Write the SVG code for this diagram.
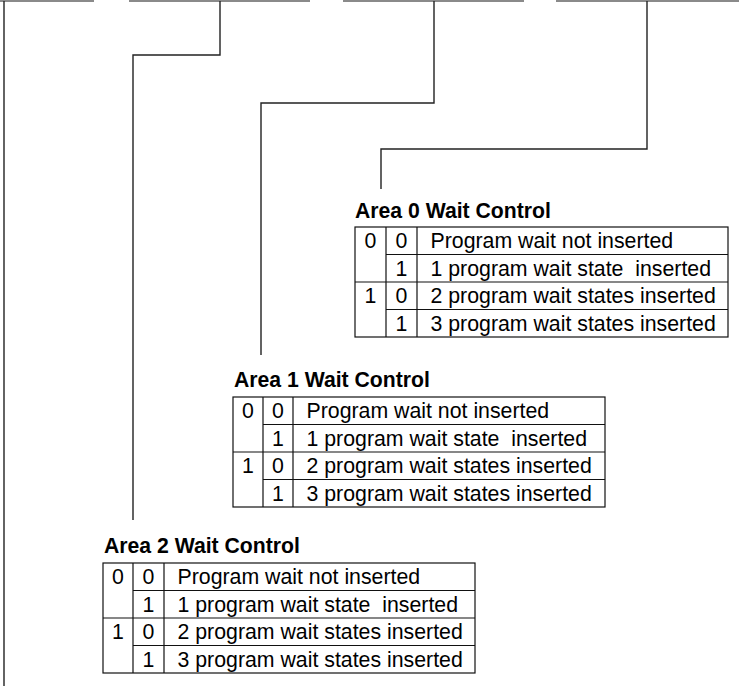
<svg xmlns="http://www.w3.org/2000/svg" width="739" height="690" viewBox="0 0 739 690">
<style>
.bus{stroke:#8a8a8a;stroke-width:2;fill:none}
.conn{stroke:#222;stroke-width:1.4;fill:none}
.grid{stroke:#111;stroke-width:1.2;fill:none}
.t{font-family:"Liberation Sans",Arial,sans-serif;font-size:21.3px;fill:#000}
.c{text-anchor:middle}
.title{font-family:"Liberation Sans",Arial,sans-serif;font-size:21.2px;font-weight:bold;fill:#000}
</style>
<rect width="739" height="690" fill="#fff"/>
<g id="connectors">
<path class="bus" d="M0 1H94M129 1H310M343 1H524M556 1H739"/>
<path class="conn" d="M4 1V686"/>
<path class="conn" d="M220 1V55H133V520"/>
<path class="conn" d="M434 1V103H261V355"/>
<path class="conn" d="M647 1V149H381V189"/>
</g>
<g id="area0">
<text class="title" x="355" y="218">Area 0 Wait Control</text>
<g transform="translate(355,227)">
<rect class="grid" x="0" y="0" width="373" height="110"/>
<path class="grid" d="M31 0V110M62 0V110M31 27.5H373M0 55H373M31 82.5H373"/>
<text class="t c" x="15.5" y="21">0</text>
<text class="t c" x="15.5" y="76">1</text>
<text class="t c" x="46.5" y="21">0</text>
<text class="t c" x="46.5" y="48.5">1</text>
<text class="t c" x="46.5" y="76">0</text>
<text class="t c" x="46.5" y="103.5">1</text>
<text class="t" x="75.5" y="21">Program wait not inserted</text>
<text class="t" x="75.5" y="48.5" xml:space="preserve">1 program wait state  inserted</text>
<text class="t" x="75.5" y="76">2 program wait states inserted</text>
<text class="t" x="75.5" y="103.5">3 program wait states inserted</text>
</g>
</g>
<g id="area1">
<text class="title" x="234" y="387">Area 1 Wait Control</text>
<g transform="translate(233,397)">
<rect class="grid" x="0" y="0" width="372" height="110"/>
<path class="grid" d="M30 0V110M60 0V110M30 27.5H372M0 55H372M30 82.5H372"/>
<text class="t c" x="15" y="21">0</text>
<text class="t c" x="15" y="76">1</text>
<text class="t c" x="45" y="21">0</text>
<text class="t c" x="45" y="48.5">1</text>
<text class="t c" x="45" y="76">0</text>
<text class="t c" x="45" y="103.5">1</text>
<text class="t" x="73.5" y="21">Program wait not inserted</text>
<text class="t" x="73.5" y="48.5" xml:space="preserve">1 program wait state  inserted</text>
<text class="t" x="73.5" y="76">2 program wait states inserted</text>
<text class="t" x="73.5" y="103.5">3 program wait states inserted</text>
</g>
</g>
<g id="area2">
<text class="title" x="104" y="553">Area 2 Wait Control</text>
<g transform="translate(103,563)">
<rect class="grid" x="0" y="0" width="372" height="110"/>
<path class="grid" d="M30 0V110M61 0V110M30 27.5H372M0 55H372M30 82.5H372"/>
<text class="t c" x="15" y="21">0</text>
<text class="t c" x="15" y="76">1</text>
<text class="t c" x="45.5" y="21">0</text>
<text class="t c" x="45.5" y="48.5">1</text>
<text class="t c" x="45.5" y="76">0</text>
<text class="t c" x="45.5" y="103.5">1</text>
<text class="t" x="74.5" y="21">Program wait not inserted</text>
<text class="t" x="74.5" y="48.5" xml:space="preserve">1 program wait state  inserted</text>
<text class="t" x="74.5" y="76">2 program wait states inserted</text>
<text class="t" x="74.5" y="103.5">3 program wait states inserted</text>
</g>
</g>
</svg>
